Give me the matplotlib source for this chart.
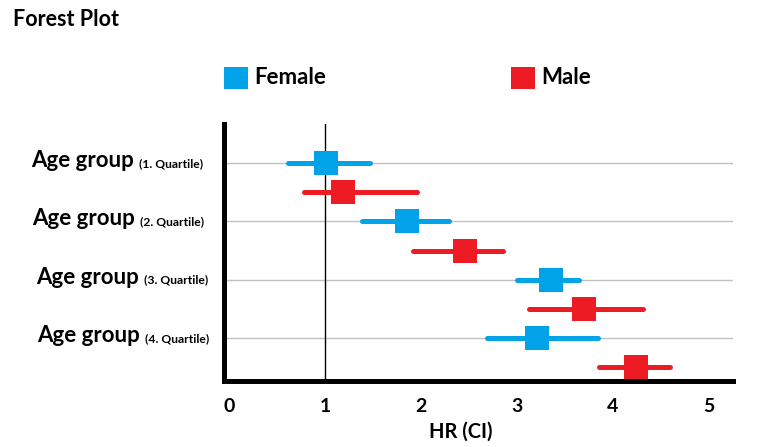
import matplotlib.pyplot as plt
from matplotlib.patches import Rectangle

plt.rcParams['font.family'] = ['Lato', 'DejaVu Sans']
plt.rcParams['font.weight'] = 'bold'

# Daten (HR und Konfidenzintervalle)
quartiles = ['(1. Quartile)', '(2. Quartile)', '(3. Quartile)', '(4. Quartile)']
group_pos = [4, 3, 2, 1]

female_hr = [1.01, 1.85, 3.35, 3.21]
female_lo = [0.62, 1.39, 3.00, 2.69]
female_hi = [1.47, 2.29, 3.65, 3.84]

male_hr = [1.19, 2.46, 3.70, 4.24]
male_lo = [0.78, 1.92, 3.13, 3.85]
male_hi = [1.96, 2.85, 4.31, 4.59]

blue = '#00A2E8'
red = '#ED1C24'

W, H = 758, 447
fig = plt.figure(figsize=(W / 100, H / 100), dpi=100)
ax = fig.add_axes([223.5 / W, 1 - 381 / H, (733 - 223.5) / W, (381 - 124) / H])

# Zeilen-Gitter und Referenzlinie bei HR = 1
for y in group_pos:
    ax.axhline(y, color='#C0C0C0', lw=1, zorder=0)
ax.axvline(1, color='black', lw=1, zorder=1)

for y, hr, lo, hi in zip(group_pos, female_hr, female_lo, female_hi):
    ax.plot([lo, hi], [y, y], color=blue, lw=3.6, solid_capstyle='round', zorder=2)
    ax.plot(hr, y, marker='s', ms=16.8, color=blue, mew=0, zorder=3)

for y, hr, lo, hi in zip(group_pos, male_hr, male_lo, male_hi):
    ym = y - 0.5
    ax.plot([lo, hi], [ym, ym], color=red, lw=3.6, solid_capstyle='round', zorder=2)
    ax.plot(hr, ym, marker='s', ms=16.8, color=red, mew=0, zorder=3)

ax.set_xlim(-0.057, 5.25)
ax.set_ylim(0.263, 4.669)
ax.set_xticks(range(6))
ax.set_yticks([])
ax.tick_params(axis='x', length=0, pad=12, labelsize=14)
for lbl in ax.get_xticklabels():
    lbl.set_fontweight('bold')
ax.set_xlabel('HR (CI)', fontsize=14.5, fontweight='bold')
ax.xaxis.set_label_coords(0.466, -0.158)

for side in ['top', 'right']:
    ax.spines[side].set_visible(False)
for side in ['left', 'bottom']:
    ax.spines[side].set_linewidth(3.6)

# Zeilenbeschriftungen: groß + klein
right_px = [203, 204, 208, 209]
fig.canvas.draw()
renderer = fig.canvas.get_renderer()
for y, q, rx in zip(group_pos, quartiles, right_px):
    small = ax.annotate(q, xy=(rx, y), xycoords=('figure pixels', 'data'),
                        xytext=(0, -4), textcoords='offset pixels',
                        ha='right', va='baseline', fontsize=8.7, fontweight='bold')
    bb = small.get_window_extent(renderer)
    ax.annotate('Age group', xy=(bb.x0 - 5, y), xycoords=('figure pixels', 'data'),
                xytext=(0, -4), textcoords='offset pixels',
                ha='right', va='baseline', fontsize=16, fontweight='bold')

# Titel
fig.text(13 / W, 1 - 26 / H, 'Forest Plot', fontsize=15.5, fontweight='bold', va='baseline')

# Legende
for x0, col, name in [(224, blue, 'Female'), (511, red, 'Male')]:
    fig.add_artist(Rectangle((x0 / W, 1 - 89 / H), 24 / W, 22 / H,
                             transform=fig.transFigure, color=col, lw=0))
    fig.text((x0 + 30) / W, 1 - 84 / H, name, fontsize=16, fontweight='bold', va='baseline')

fig.savefig('out.png', dpi=100)
